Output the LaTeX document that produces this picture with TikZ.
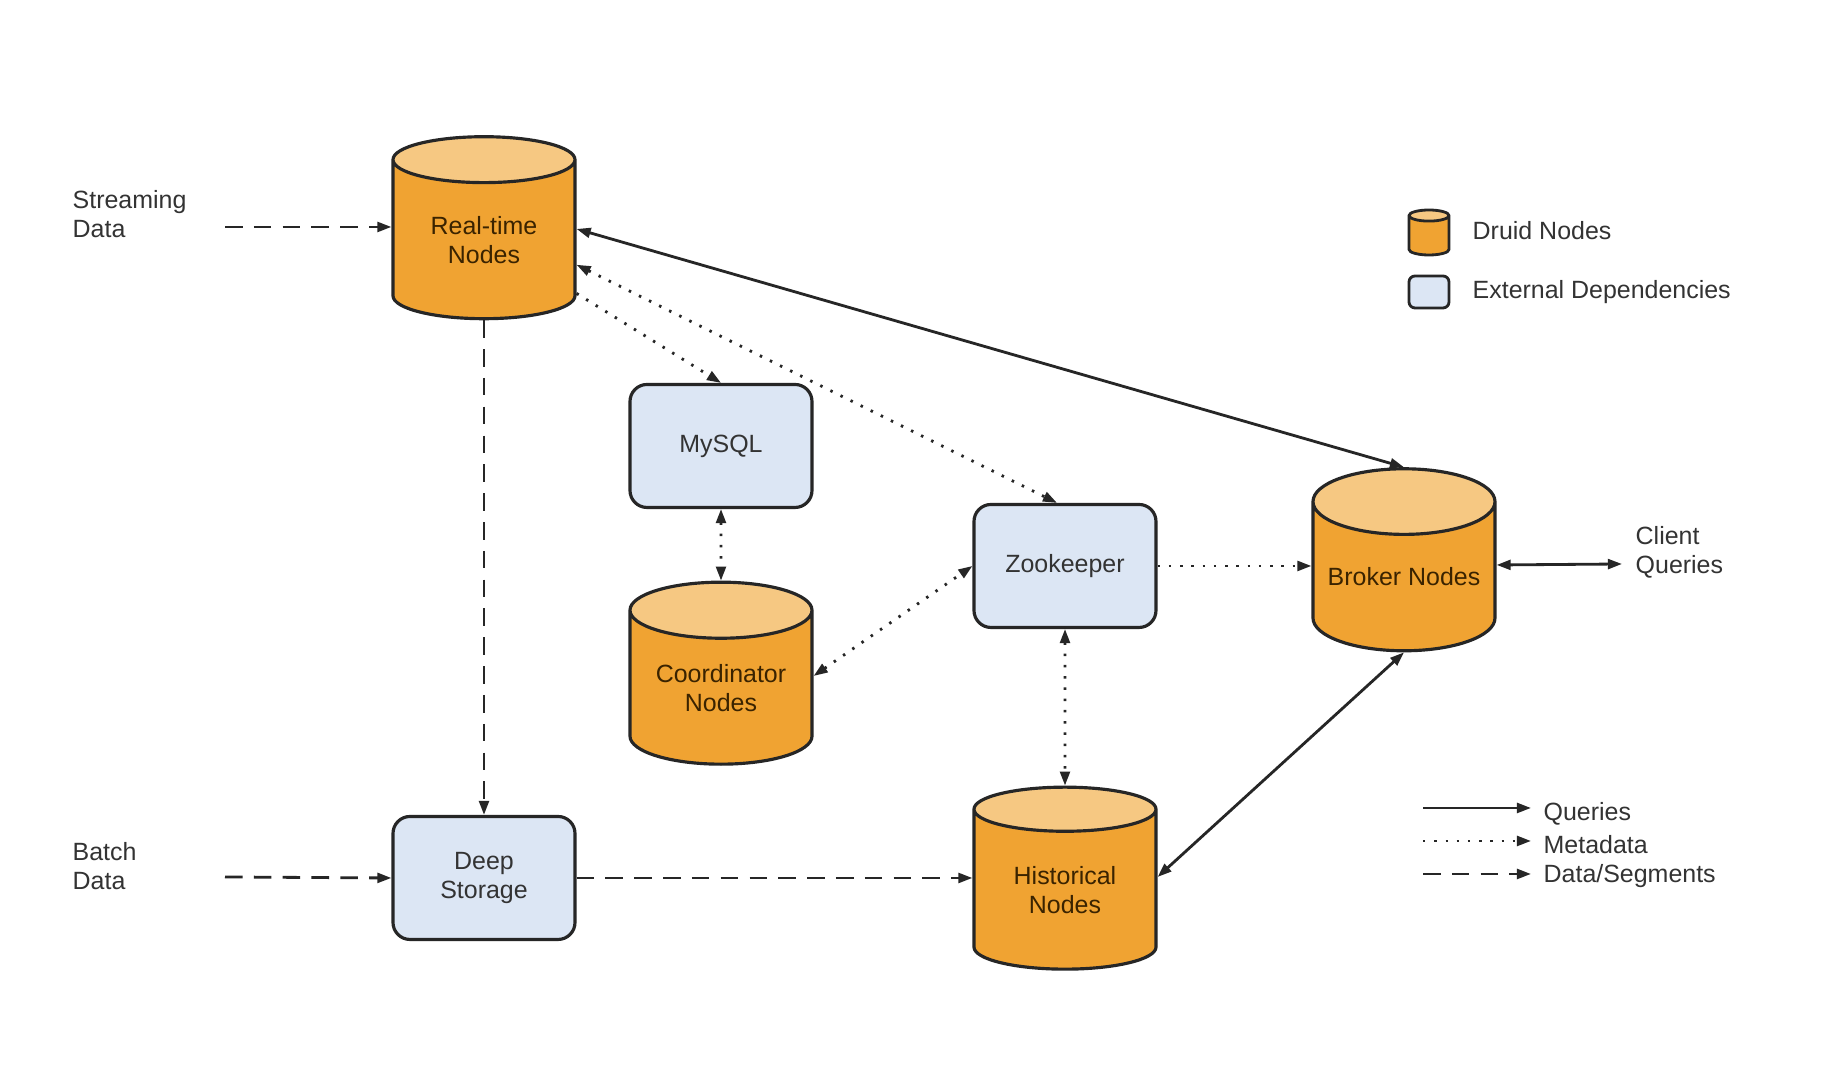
\documentclass[tikz,border=0pt]{standalone}
\usepackage{fontspec}
\setmainfont{Liberation Sans}
\usepackage{xcolor}
\usetikzlibrary{calc, shapes.geometric, positioning, arrows.meta}

\definecolor{druidorange}{HTML}{F0A332}
\definecolor{druidtop}{HTML}{F6C882}
\definecolor{extblue}{HTML}{DCE6F4}
\definecolor{edgec}{HTML}{262626}
\definecolor{labelc}{HTML}{333333}
\definecolor{druidtext}{HTML}{3A2300}

\begin{document}
\begin{tikzpicture}[>={Triangle[length=4pt,width=2.8pt]},
    font=\fontsize{7.1pt}{8.3pt}\selectfont,
    druid/.style={cylinder, shape border rotate=90, aspect=0.43, draw=edgec, line width=0.9pt,
        cylinder uses custom fill, cylinder body fill=druidorange, cylinder end fill=druidtop,
        minimum width=1.82cm, minimum height=1.82cm, align=center, text=druidtext, inner sep=0pt},
    extdep/.style={rectangle, rounded corners=0.17cm, draw=edgec, line width=0.9pt, fill=extblue,
        minimum width=1.82cm, minimum height=1.23cm, align=center, text=labelc},
    query/.style={line width=0.8pt, draw=edgec},
    meta/.style={line width=0.8pt, draw=edgec, dash pattern=on 0.7pt off 2.5pt},
    dataseg/.style={line width=0.8pt, draw=edgec, dash pattern=on 5pt off 3.2pt},
    lbl/.style={text=labelc, align=left, inner sep=0pt, anchor=west}]

    % =================================================================
    % 1. PAGE AND FREE END POINTS
    % =================================================================
    \path[fill=white, use as bounding box] (0,0) rectangle (18.32,10.78);

    \coordinate (stream) at (2.25,8.51);
    \coordinate (batch) at (2.25,2.01);
    \coordinate (client) at (16.22,5.14);

    % =================================================================
    % 2. DRUID NODES AND EXTERNAL DEPENDENCIES
    % =================================================================
    % (cylinders are placed by their text centre)
    \node[druid] (rt) at (4.84,8.38) {Real-time\\Nodes};
    \node[extdep] (mysql) at (7.21,6.32) {MySQL};
    \node[druid] (coord) at (7.21,3.90) {Coordinator\\Nodes};
    \node[extdep] (zoo) at (10.65,5.12) {Zookeeper};
    \node[druid] (broker) at (14.04,5.01) {Broker Nodes};
    \node[druid] (hist) at (10.65,1.88) {Historical\\Nodes};
    \node[extdep] (deep) at (4.84,2.00) {Deep\\Storage};

    % =================================================================
    % 3. OUTSIDE LABELS
    % =================================================================
    \node[lbl] (streamtxt) at (0.72,8.64) {Streaming\\Data};
    \node[lbl] (batchtxt) at (0.72,2.12) {Batch\\Data};
    \node[lbl] (clienttxt) at (16.35,5.26) {Client\\Queries};

    % =================================================================
    % 4. CONNECTORS
    % =================================================================
    % Data / segments
    \draw[dataseg, ->] (stream) -- (stream -| rt.west);
    \draw[dataseg, ->] (batch) -- (deep.west);
    \draw[dataseg, ->] (rt.south) -- (deep.north);
    \draw[dataseg, ->] (deep.east) -- (deep.east -| hist.west);

    % Queries
    \draw[query, <->] ($(rt.east)+(0,0.11)$) -- (broker.north);
    \draw[query, <->] ($(hist.east)+(0,0.13)$) -- (broker.south);
    \draw[query, <->] ($(broker.east)+(0,0.12)$) -- (client);

    % Metadata
    \draw[meta, ->] (rt.-30) -- (mysql.north);
    \draw[meta, <->] (rt.-15) -- ($(zoo.north)+(-0.08,0)$);
    \draw[meta, <->] (mysql.south) -- (coord.north);
    \draw[meta, <->] ($(coord.east)+(0,0.12)$) -- (zoo.west);
    \draw[meta, ->] (zoo.east) -- (zoo.east -| broker.west);
    \draw[meta, <->] (zoo.south) -- (hist.north);

    % =================================================================
    % 5. LEGEND
    % =================================================================
    \node[druid, minimum width=0.40cm, minimum height=0.45cm, aspect=1.6, line width=0.8pt] (keydruid) at (14.29,8.42) {\phantom{I}};
    \node[lbl] (keydruidtxt) at (14.72,8.47) {Druid Nodes};
    \node[extdep, rounded corners=0.06cm, minimum width=0.40cm, minimum height=0.32cm, line width=0.8pt] (keyext) at (14.29,7.86) {};
    \node[lbl] (keyexttxt) at (14.72,7.86) {External Dependencies};

    \coordinate (keyq) at (14.23,2.70);
    \coordinate (keym) at (14.23,2.37);
    \coordinate (keyd) at (14.23,2.04);
    \node[lbl] (keyqtxt) at (15.43,2.64) {Queries};
    \node[lbl] (keymtxt) at (15.43,2.33) {Metadata};
    \node[lbl] (keydtxt) at (15.43,2.02) {Data/Segments};
    \draw[query, ->] (keyq) -- ++(1.08,0);
    \draw[meta, ->] (keym) -- ++(1.08,0);
    \draw[dataseg, ->] (keyd) -- ++(1.08,0);

\end{tikzpicture}
\end{document}
